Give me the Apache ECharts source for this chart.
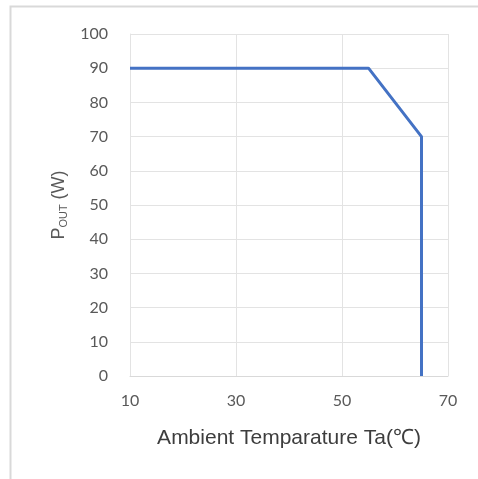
<html>
<head>
<meta charset="utf-8">
<script src="https://cdn.jsdelivr.net/npm/echarts@6/dist/echarts.min.js"></script>
<style>
  body { margin: 0; background: #fff; }
  #chart { width: 478px; height: 479px; }
</style>
</head>
<body>
<div id="chart"></div>
<script type="text/javascript">
    // derating curve: ambient temperature (C) vs output power (W)
    var tempPoints = [10, 55, 65, 65];
    var powerPoints = [90, 90, 70, 0];

    var xTicks = [10, 30, 50, 70];
    var yTicks = [0, 10, 20, 30, 40, 50, 60, 70, 80, 90, 100];

    var lineData = tempPoints.map(function (t, i) { return [t, powerPoints[i]]; });

    var myChart = echarts.init(document.getElementById('chart'));

    var options = {
        animation: false,
        graphic: [{
            type: 'rect',
            shape: { x: 10.5, y: 6.5, width: 480, height: 480 },
            style: { fill: 'none', stroke: '#d9d9d9', lineWidth: 2 },
            silent: true
        }],
        grid: { left: 130, right: 30, top: 34, bottom: 103 },
        xAxis: {
            type: 'value',
            min: 10, max: 70, interval: 20,
            name: 'Ambient Temparature Ta(\u2103)',
            nameLocation: 'middle',
            nameGap: 52,
            nameTextStyle: { fontSize: 21, color: '#3d3d3d', fontFamily: 'Liberation Sans' },
            axisLine: { show: true, lineStyle: { color: '#d9d9d9', width: 1 } },
            axisTick: { show: false },
            axisLabel: {
                color: '#595959', fontSize: 16, margin: 17, fontFamily: 'Lato',
                formatter: function (v) { return xTicks.indexOf(v) >= 0 ? String(v) : ''; }
            },
            splitLine: { show: true, lineStyle: { color: '#e3e3e3', width: 1 } }
        },
        yAxis: {
            type: 'value',
            min: 0, max: 100, interval: 10,
            name: '{p|P}{s|OUT}{p| (W)}',
            nameLocation: 'middle',
            nameRotate: 90,
            nameGap: 54,
            nameTextStyle: {
                rich: {
                    p: { fontSize: 18, color: '#595959', fontFamily: 'Liberation Sans' },
                    s: { fontSize: 11, color: '#595959', fontFamily: 'Liberation Sans', padding: [9, 0, 0, 0] }
                }
            },
            axisLine: { show: true, lineStyle: { color: '#e3e3e3' } },
            axisTick: { show: false },
            axisLabel: {
                color: '#595959', fontSize: 16, margin: 22, fontFamily: 'Lato',
                formatter: function (v) { return yTicks.indexOf(v) >= 0 ? String(v) : ''; }
            },
            splitLine: { show: true, lineStyle: { color: '#e3e3e3', width: 1 } }
        },
        series: [{
            type: 'line',
            data: lineData,
            symbol: 'none',
            lineStyle: { color: '#4472C4', width: 3 }
        }]
    };

    myChart.setOption(options);
</script>
</body>
</html>
